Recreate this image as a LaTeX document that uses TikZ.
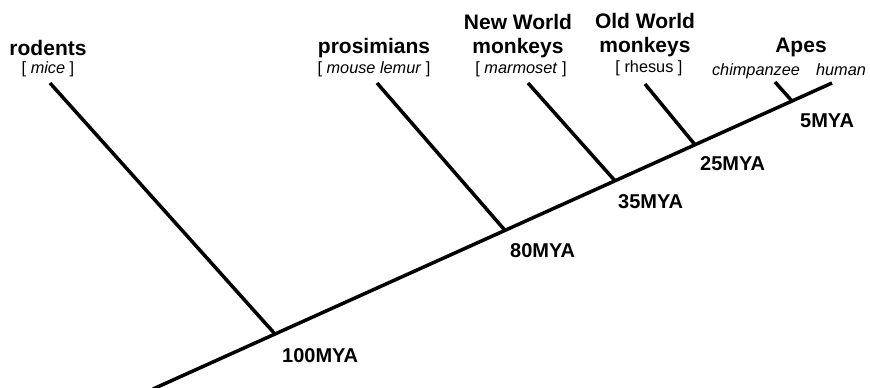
\documentclass[tikz,border=0pt]{standalone}
\usepackage{fontspec}
\setmainfont{Liberation Sans}
\usepackage{tikz}
\usetikzlibrary{positioning,calc}

\begin{document}
\begin{tikzpicture}[x=1pt,y=-1pt]
      \tikzset{
        taxon/.style={font=\fontsize{21}{24}\selectfont\bfseries, align=center,
                      inner sep=0pt, anchor=base},
        species/.style={font=\fontsize{16.3}{19}\selectfont, inner sep=0pt, anchor=base},
        age/.style={font=\fontsize{20}{22}\selectfont\bfseries, inner sep=0pt, anchor=base west},
        branch/.style={line width=3.5pt}
      }
      \useasboundingbox (0,0) rectangle (870,388);

      % main stem and split points
      \coordinate (root) at (153,389);
      \coordinate (human) at (832,83);
      \coordinate (split100) at ($(root)!0.1797!(human)$);
      \coordinate (split80) at ($(root)!0.5184!(human)$);
      \coordinate (split35) at ($(root)!0.6804!(human)$);
      \coordinate (split25) at ($(root)!0.7982!(human)$);
      \coordinate (split5) at ($(root)!0.9411!(human)$);

      % branch tips
      \coordinate (rodenttip) at (50,83);
      \coordinate (prosimtip) at (377,83);
      \coordinate (newworldtip) at (528,83);
      \coordinate (oldworldtip) at (645,84);
      \coordinate (chimptip) at (775,82);

      % labels
      \node[taxon] (rodents) at (48,55) {rodents};
      \node[species] (mice) at (48,73) {[ \textit{mice} ]};
      \node[taxon] (prosimians) at (374,53) {prosimians};
      \node[species] (lemur) at (374,73) {[ \textit{mouse lemur} ]};
      \node[taxon] (newworld) at (518,53) {New World\\monkeys};
      \node[species] (marmoset) at (521,73) {[ \textit{marmoset} ]};
      \node[taxon] (oldworld) at (645,52) {Old World\\monkeys};
      \node[species] (rhesus) at (649,72) {[ rhesus ]};
      \node[taxon] (apes) at (801,52) {Apes};
      \node[species] (chimpanzee) at (756,75) {\textit{chimpanzee}};
      \node[species] (humanlabel) at (841,75) {\textit{human}};

      \node[age] (age100) at (282,362) {100MYA};
      \node[age] (age80) at (510,257) {80MYA};
      \node[age] (age35) at (618,208) {35MYA};
      \node[age] (age25) at (700,170) {25MYA};
      \node[age] (age5) at (800,127) {5MYA};

      \draw[branch] (root) -- (human);
      \draw[branch] (rodenttip) -- (split100);
      \draw[branch] (prosimtip) -- (split80);
      \draw[branch] (newworldtip) -- (split35);
      \draw[branch] (oldworldtip) -- (split25);
      \draw[branch] (chimptip) -- (split5);

    \end{tikzpicture}
\end{document}
